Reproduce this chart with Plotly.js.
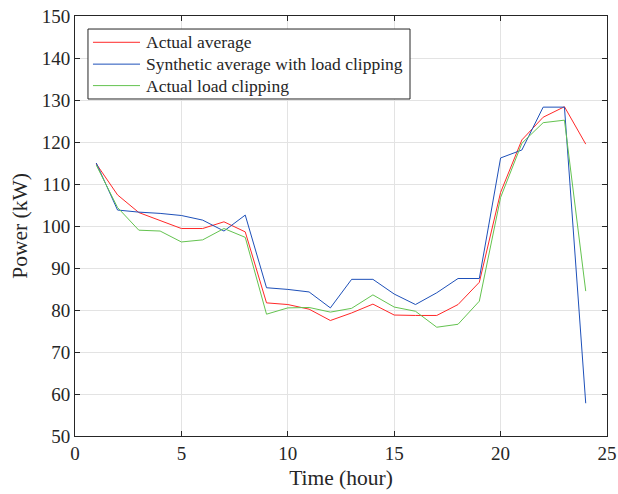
<!DOCTYPE html>
<html>
<head>
<meta charset="utf-8">
<script src="https://cdn.plot.ly/plotly-3.0.1.min.js"></script>
<style>body{margin:0;padding:0;background:#fff}#chart{width:618px;height:494px}</style>
</head>
<body>
<div id="chart"></div>
<script>
const hours = [1,2,3,4,5,6,7,8,9,10,11,12,13,14,15,16,17,18,19,20,21,22,23,24];
const actualAverage = [114.8,107.4,103.2,101.3,99.4,99.4,101.0,98.6,81.7,81.3,80.2,77.5,79.3,81.4,78.8,78.7,78.7,81.3,86.6,108.0,120.5,125.9,128.4,119.5];
const syntheticClipping = [115.0,103.8,103.3,103.0,102.5,101.4,98.8,102.6,85.3,84.9,84.3,80.5,87.3,87.3,83.8,81.3,84.1,87.5,87.5,116.2,118.1,128.3,128.3,57.8];
const actualClipping = [114.5,104.4,99.0,98.8,96.2,96.7,99.4,97.3,79.0,80.5,80.6,79.5,80.4,83.6,80.7,79.7,75.9,76.6,82.1,106.8,119.7,124.6,125.2,84.5];
const seriesNames = ['Actual average','Synthetic average with load clipping','Actual load clipping'];
const xTicks = [0,5,10,15,20,25];
const yTicks = [50,60,70,80,90,100,110,120,130,140,150];

const colors = ['rgb(255,40,40)', 'rgb(30,80,185)', 'rgb(100,195,80)'];
const seriesData = [actualAverage, syntheticClipping, actualClipping];
const traces = seriesData.map((ys, i) => ({
  x: hours, y: ys, name: seriesNames[i], mode: 'lines', showlegend: false,
  line: {color: colors[i], width: 1}
}));

const FAM = 'Liberation Serif';
const INK = '#262626';

// Legend drawn as a box with swatches and labels (paper coordinates)
const legBox = {x0: 0.0244, x1: 0.6297, y0: 0.8024, y1: 0.969};
const legRowsY = [0.9374, 0.8854, 0.8343];
const legSwatch = {x0: 0.0338, x1: 0.1222};
const legTextX = 0.1297;
const shapes = [{
  type: 'rect', xref: 'paper', yref: 'paper',
  x0: legBox.x0, x1: legBox.x1, y0: legBox.y0, y1: legBox.y1,
  line: {color: INK, width: 1}, fillcolor: '#fff', layer: 'above'
}];
const annotations = [];
seriesNames.forEach((nm, i) => {
  shapes.push({type: 'line', xref: 'paper', yref: 'paper',
    x0: legSwatch.x0, x1: legSwatch.x1, y0: legRowsY[i], y1: legRowsY[i],
    line: {color: colors[i], width: 1}, layer: 'above'});
  annotations.push({xref: 'paper', yref: 'paper', x: legTextX, y: legRowsY[i],
    xanchor: 'left', yanchor: 'middle', showarrow: false, text: nm,
    font: {family: FAM, size: 17.5, color: INK}});
});

const axisBase = {
  showline: true, linecolor: INK, linewidth: 1, mirror: 'ticks',
  ticks: 'inside', ticklen: 5, tickcolor: INK,
  showgrid: true, gridcolor: '#e3e3e3', gridwidth: 1, zeroline: false,
  tickfont: {family: FAM, size: 19, color: INK}
};
const layout = {
  width: 618, height: 494,
  margin: {l: 75, r: 11, t: 16, b: 58},
  paper_bgcolor: '#fff', plot_bgcolor: '#fff',
  font: {family: FAM, color: INK, size: 19},
  showlegend: false,
  shapes: shapes,
  annotations: annotations,
  xaxis: Object.assign({}, axisBase, {
    range: [0, 25], tickvals: xTicks, ticktext: xTicks.map(String),
    title: {text: 'Time (hour)', font: {family: FAM, size: 21.5, color: INK}, standoff: 7}
  }),
  yaxis: Object.assign({}, axisBase, {
    range: [50, 150], tickvals: yTicks, ticktext: yTicks.map(String),
    title: {text: 'Power (kW)', font: {family: FAM, size: 21.5, color: INK}, standoff: 8}
  })
};
Plotly.newPlot('chart', traces, layout, {displayModeBar: false});
</script>
</body>
</html>
